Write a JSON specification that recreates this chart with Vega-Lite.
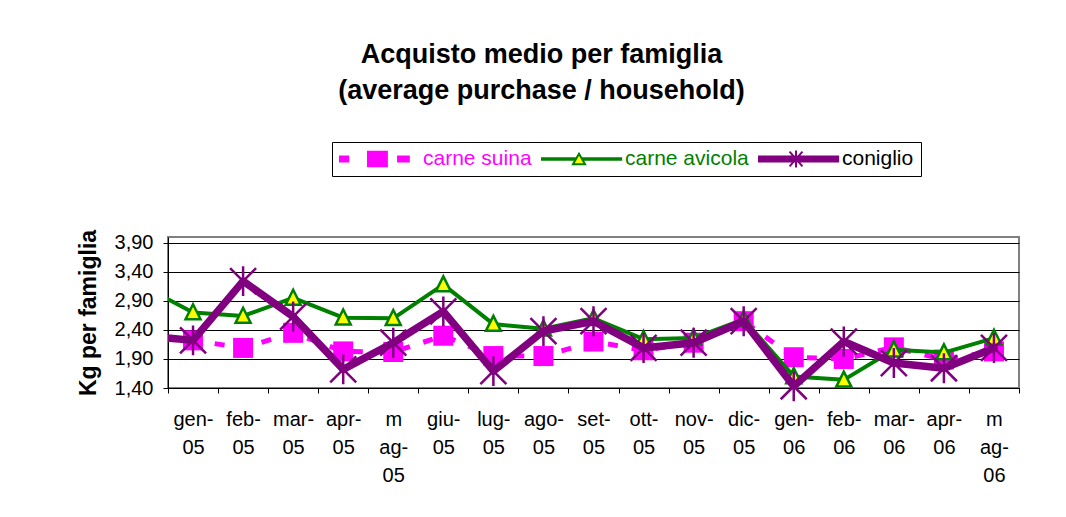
{
  "$schema": "https://vega.github.io/schema/vega-lite/v6.json",
  "width": 851,
  "height": 151,
  "autosize": "none",
  "padding": {"left": 168, "top": 237, "right": 47, "bottom": 129},
  "background": "white",
  "title": {
    "text": ["Acquisto medio per famiglia", "(average purchase / household)"],
    "fontSize": 27,
    "fontWeight": "bold",
    "font": "Liberation Sans",
    "color": "black",
    "anchor": "middle",
    "dx": -52,
    "offset": 37,
    "lineHeight": 36
  },
  "data": {
    "values": [
      {"i": 0, "mese": "dic-04", "serie": "carne suina", "v": 2.25},
      {"i": 1, "mese": "gen-05", "serie": "carne suina", "v": 2.22},
      {"i": 2, "mese": "feb-05", "serie": "carne suina", "v": 2.09},
      {"i": 3, "mese": "mar-05", "serie": "carne suina", "v": 2.35},
      {"i": 4, "mese": "apr-05", "serie": "carne suina", "v": 2.03},
      {"i": 5, "mese": "mag-05", "serie": "carne suina", "v": 2.02},
      {"i": 6, "mese": "giu-05", "serie": "carne suina", "v": 2.30},
      {"i": 7, "mese": "lug-05", "serie": "carne suina", "v": 1.95},
      {"i": 8, "mese": "ago-05", "serie": "carne suina", "v": 1.95},
      {"i": 9, "mese": "set-05", "serie": "carne suina", "v": 2.20},
      {"i": 10, "mese": "ott-05", "serie": "carne suina", "v": 2.05},
      {"i": 11, "mese": "nov-05", "serie": "carne suina", "v": 2.18},
      {"i": 12, "mese": "dic-05", "serie": "carne suina", "v": 2.55},
      {"i": 13, "mese": "gen-06", "serie": "carne suina", "v": 1.93},
      {"i": 14, "mese": "feb-06", "serie": "carne suina", "v": 1.90},
      {"i": 15, "mese": "mar-06", "serie": "carne suina", "v": 2.10},
      {"i": 16, "mese": "apr-06", "serie": "carne suina", "v": 1.89},
      {"i": 17, "mese": "mag-06", "serie": "carne suina", "v": 2.03},
      {"i": 0, "mese": "dic-04", "serie": "carne avicola", "v": 3.16},
      {"i": 1, "mese": "gen-05", "serie": "carne avicola", "v": 2.70},
      {"i": 2, "mese": "feb-05", "serie": "carne avicola", "v": 2.64},
      {"i": 3, "mese": "mar-05", "serie": "carne avicola", "v": 2.95},
      {"i": 4, "mese": "apr-05", "serie": "carne avicola", "v": 2.61},
      {"i": 5, "mese": "mag-05", "serie": "carne avicola", "v": 2.60},
      {"i": 6, "mese": "giu-05", "serie": "carne avicola", "v": 3.18},
      {"i": 7, "mese": "lug-05", "serie": "carne avicola", "v": 2.50},
      {"i": 8, "mese": "ago-05", "serie": "carne avicola", "v": 2.42},
      {"i": 9, "mese": "set-05", "serie": "carne avicola", "v": 2.60},
      {"i": 10, "mese": "ott-05", "serie": "carne avicola", "v": 2.24},
      {"i": 11, "mese": "nov-05", "serie": "carne avicola", "v": 2.26},
      {"i": 12, "mese": "dic-05", "serie": "carne avicola", "v": 2.58},
      {"i": 13, "mese": "gen-06", "serie": "carne avicola", "v": 1.60},
      {"i": 14, "mese": "feb-06", "serie": "carne avicola", "v": 1.54},
      {"i": 15, "mese": "mar-06", "serie": "carne avicola", "v": 2.06},
      {"i": 16, "mese": "apr-06", "serie": "carne avicola", "v": 2.01},
      {"i": 17, "mese": "mag-06", "serie": "carne avicola", "v": 2.26},
      {"i": 0, "mese": "dic-04", "serie": "coniglio", "v": 2.30},
      {"i": 1, "mese": "gen-05", "serie": "coniglio", "v": 2.22},
      {"i": 2, "mese": "feb-05", "serie": "coniglio", "v": 3.24},
      {"i": 3, "mese": "mar-05", "serie": "coniglio", "v": 2.63},
      {"i": 4, "mese": "apr-05", "serie": "coniglio", "v": 1.72},
      {"i": 5, "mese": "mag-05", "serie": "coniglio", "v": 2.18},
      {"i": 6, "mese": "giu-05", "serie": "coniglio", "v": 2.72},
      {"i": 7, "mese": "lug-05", "serie": "coniglio", "v": 1.69},
      {"i": 8, "mese": "ago-05", "serie": "coniglio", "v": 2.38},
      {"i": 9, "mese": "set-05", "serie": "coniglio", "v": 2.55},
      {"i": 10, "mese": "ott-05", "serie": "coniglio", "v": 2.09},
      {"i": 11, "mese": "nov-05", "serie": "coniglio", "v": 2.18},
      {"i": 12, "mese": "dic-05", "serie": "coniglio", "v": 2.55},
      {"i": 13, "mese": "gen-06", "serie": "coniglio", "v": 1.43},
      {"i": 14, "mese": "feb-06", "serie": "coniglio", "v": 2.20},
      {"i": 15, "mese": "mar-06", "serie": "coniglio", "v": 1.83},
      {"i": 16, "mese": "apr-06", "serie": "coniglio", "v": 1.74},
      {"i": 17, "mese": "mag-06", "serie": "coniglio", "v": 2.09}
    ]
  },
  "encoding": {
    "x": {
      "field": "i",
      "type": "quantitative",
      "scale": {"domain": [0.5, 17.5], "nice": false, "zero": false},
      "axis": {
        "title": null,
        "values": [0.5, 1.5, 2.5, 3.5, 4.5, 5.5, 6.5, 7.5, 8.5, 9.5, 10.5, 11.5, 12.5, 13.5, 14.5, 15.5, 16.5, 17.5],
        "labelExpr": "datum.value > 17 ? '' : split(['gen-|05','feb-|05','mar-|05','apr-|05','m|ag-|05','giu-|05','lug-|05','ago-|05','set-|05','ott-|05','nov-|05','dic-|05','gen-|06','feb-|06','mar-|06','apr-|06','m|ag-|06'][round(datum.value - 0.5)], '|')",
        "labelOffset": 25,
        "labelPadding": 16,
        "labelLineHeight": 28,
        "labelBaseline": "top",
        "labelAlign": "center",
        "labelOverlap": false,
        "labelFlush": false,
        "labelBound": false,
        "labelFontSize": 20,
        "labelColor": "black",
        "grid": false,
        "tickSize": 5,
        "tickColor": "black",
        "domainColor": "black"
      }
    },
    "y": {
      "field": "v",
      "type": "quantitative",
      "scale": {"domain": [1.4, 4.0], "nice": false, "zero": false},
      "axis": {
        "title": "Kg per famiglia",
        "titleFontSize": 23,
        "titleFontWeight": "bold",
        "titleColor": "black",
        "titlePadding": 14,
        "values": [1.4, 1.9, 2.4, 2.9, 3.4, 3.9],
        "labelExpr": "replace(format(datum.value, '.2f'), '.', ',')",
        "labelFontSize": 20,
        "labelColor": "black",
        "labelPadding": 10,
        "grid": true,
        "gridColor": "black",
        "gridOpacity": 1,
        "gridWidth": 1,
        "tickSize": 5,
        "tickColor": "black",
        "domainColor": "black"
      }
    }
  },
  "layer": [
    {
      "transform": [{"filter": "datum.serie === 'carne suina'"}],
      "mark": {"type": "line", "clip": true, "strokeWidth": 5, "strokeDash": [10, 14]},
      "encoding": {
        "color": {
          "field": "serie",
          "type": "nominal",
          "scale": {"domain": ["carne suina", "carne avicola", "coniglio"], "range": ["#FF00FF", "#008000", "#800080"]},
          "legend": {
            "title": null,
            "orient": "none",
            "legendX": 164,
            "legendY": -95,
            "direction": "horizontal",
            "columns": 3,
            "columnPadding": 9,
            "padding": 7,
            "strokeColor": "black",
            "fillColor": "white",
            "symbolSize": 7396,
            "symbolStrokeWidth": 2,
            "symbolOffset": -6,
            "labelOffset": 2,
            "clipHeight": 20,
            "labelFontSize": 21,
            "labelFont": "Liberation Sans",
            "labelLimit": 300,
            "encode": {
              "symbols": {
                "update": {
                  "shape": {"signal": "datum.value === 'carne suina' ? 'M-0.93,-0.06L-0.67,-0.06L-0.67,0.06L-0.93,0.06Z M-0.21,-0.17L0.23,-0.17L0.23,0.17L-0.21,0.17Z M0.49,-0.06L0.74,-0.06L0.74,0.06L0.49,0.06Z' : datum.value === 'carne avicola' ? 'M-0.98,-0.02L-0.09,-0.02L-0.09,0.02L-0.98,0.02Z M0.09,-0.02L0.98,-0.02L0.98,0.02L0.09,0.02Z M0,-0.12L0.14,0.12L-0.14,0.12Z' : 'M-0.98,-0.06L0.98,-0.06L0.98,0.06L-0.98,0.06Z M-0.15,-0.17L0.15,0.17 M-0.15,0.17L0.15,-0.17 M0,-0.2L0,0.2'"},
                  "fill": {"signal": "datum.value === 'carne suina' ? '#FF00FF' : datum.value === 'carne avicola' ? '#FFFF00' : '#800080'"},
                  "stroke": {"signal": "datum.value === 'carne suina' ? 'transparent' : datum.value === 'carne avicola' ? '#008000' : '#800080'"},
                  "strokeWidth": {"value": 2},
                  "strokeDash": {"value": []},
                  "size": {"value": 7396},
                  "opacity": {"value": 1},
                  "fillOpacity": {"value": 1},
                  "strokeOpacity": {"value": 1}
                }
              },
              "labels": {
                "update": {
                  "fill": {"signal": "datum.value === 'carne suina' ? '#FF00FF' : datum.value === 'carne avicola' ? '#008000' : 'black'"}
                }
              }
            }
          }
        }
      }
    },
    {
      "transform": [{"filter": "datum.serie === 'carne suina' && datum.i >= 1"}],
      "mark": {"type": "point", "shape": "square", "filled": true, "size": 400, "color": "#FF00FF", "opacity": 1, "strokeWidth": 0}
    },
    {
      "transform": [{"filter": "datum.serie === 'carne avicola'"}],
      "mark": {"type": "line", "clip": true, "strokeWidth": 4, "color": "#008000", "strokeJoin": "round", "strokeCap": "round"}
    },
    {
      "transform": [{"filter": "datum.serie === 'carne avicola' && datum.i >= 1"}],
      "mark": {"type": "point", "shape": "M0,-1.1L1,0.9L-1,0.9Z", "filled": true, "size": 225, "fill": "#FFFF00", "stroke": "#008000", "strokeWidth": 2.5, "opacity": 1}
    },
    {
      "transform": [{"filter": "datum.serie === 'coniglio'"}],
      "mark": {"type": "line", "clip": true, "strokeWidth": 7.5, "color": "#800080", "strokeJoin": "round", "strokeCap": "round"}
    },
    {
      "transform": [{"filter": "datum.serie === 'coniglio' && datum.i >= 1"}],
      "mark": {"type": "point", "shape": "M-1,-1L1,1M-1,1L1,-1M0,-1.15L0,1.15", "filled": false, "size": 676, "stroke": "#800080", "strokeWidth": 2.5, "opacity": 1}
    }
  ],
  "config": {
    "font": "Liberation Sans",
    "view": {"stroke": "#808080", "strokeWidth": 2},
    "axis": {"labelFont": "Liberation Sans", "titleFont": "Liberation Sans"}
  }
}
